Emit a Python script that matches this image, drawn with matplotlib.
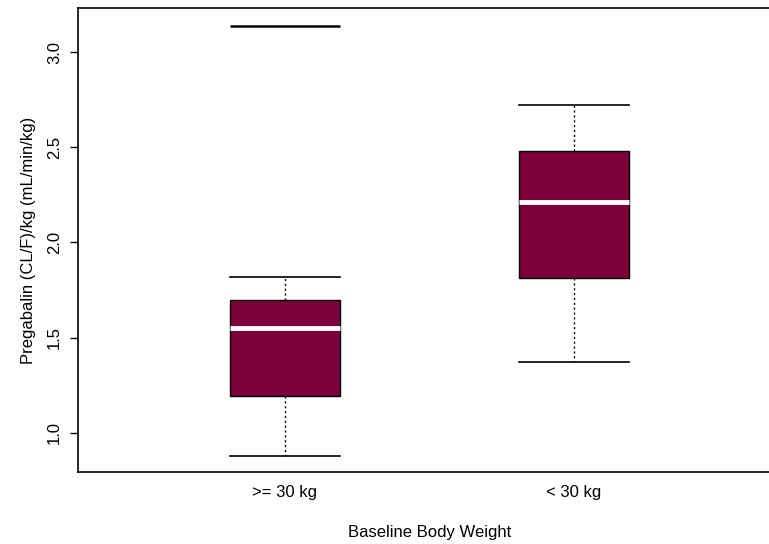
import numpy as np
import matplotlib
matplotlib.use("Agg")
from matplotlib import pyplot as plt

plt.rcParams['font.family'] = ['Liberation Sans', 'DejaVu Sans']

# clearance by body weight group
grupos = [">= 30 kg", "< 30 kg"]
whisk_lo = [0.88, 1.37]
q1 = [1.195, 1.815]
mediana = [1.55, 2.215]
q3 = [1.70, 2.48]
whisk_hi = [1.82, 2.72]
atipicos = [[3.14], []]

stats = []
for i in range(len(grupos)):
    stats.append({"whislo": whisk_lo[i], "q1": q1[i], "med": mediana[i],
                  "q3": q3[i], "whishi": whisk_hi[i], "fliers": atipicos[i],
                  "label": grupos[i]})

fig = plt.figure(figsize=(7.69, 5.44), dpi=100)
ax = fig.add_axes([0.1008, 0.1318, 0.916, 0.853])

ancho = 0.38
ax.bxp(stats, positions=[1, 2], widths=ancho, patch_artist=True,
       boxprops=dict(facecolor="#7d003c", edgecolor="black", linewidth=1.0),
       medianprops=dict(color="white", linewidth=3.5),
       whiskerprops=dict(color="black", linestyle=(0, (1.5, 2)), linewidth=1.0),
       capprops=dict(color="black", linewidth=1.2),
       capwidths=ancho,
       flierprops=dict(marker="_", markersize=ancho * 289 * 0.72,
                       markeredgewidth=1.8, markeredgecolor="black"))

ax.set_xlim(0.282, 2.72)
ax.set_ylim(0.792, 3.231)
ax.set_yticks([1.0, 1.5, 2.0, 2.5, 3.0])
ax.set_yticklabels(["1.0", "1.5", "2.0", "2.5", "3.0"], rotation=90, va="center")
ax.tick_params(axis="y", length=6, width=1, labelsize=12, pad=5)
ax.tick_params(axis="x", length=0, labelsize=12, pad=9)
ax.set_xticklabels(grupos)

ax.set_ylabel("Pregabalin (CL/F)/kg (mL/min/kg)", fontsize=12, labelpad=8)
ax.set_xlabel("Baseline Body Weight", fontsize=12, labelpad=18)

for s in ax.spines.values():
    s.set_linewidth(1.2)

fig.savefig("out.png", dpi=100)
